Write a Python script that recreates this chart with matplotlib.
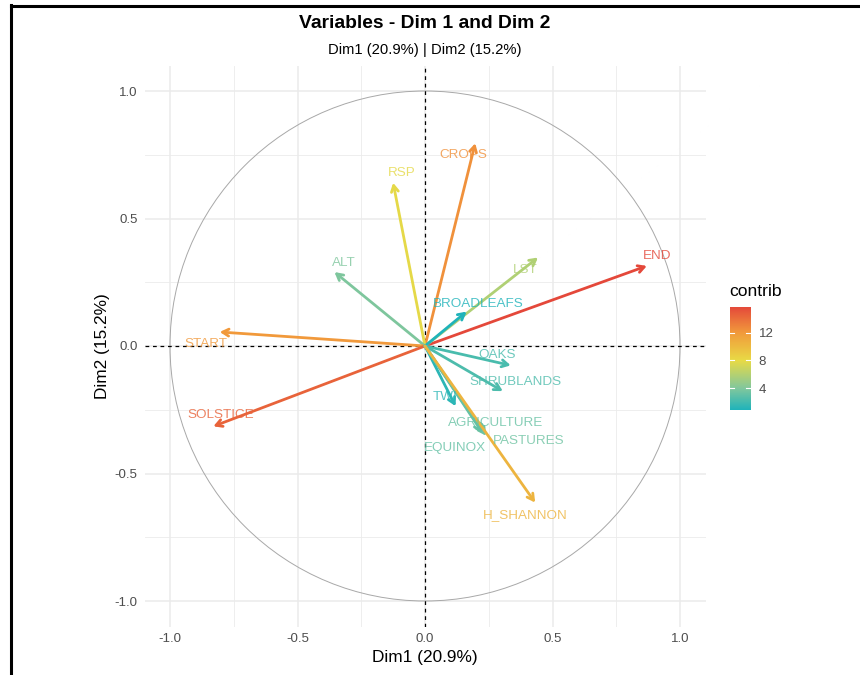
import numpy as np
import matplotlib
matplotlib.use("Agg")
import matplotlib.pyplot as plt
from matplotlib.colors import LinearSegmentedColormap, Normalize
from matplotlib.lines import Line2D
from matplotlib.patches import Circle

plt.rcParams["font.family"] = ["Liberation Sans", "DejaVu Sans"]

# Variable coordinates on the first two principal dimensions
variables = ["END", "CROPS", "RSP", "ALT", "START", "SOLSTICE", "LST",
             "BROADLEAFS", "OAKS", "SHRUBLANDS", "TWI", "AGRICULTURE",
             "PASTURES", "EQUINOX", "H_SHANNON"]
dim1 = [0.870, 0.197, -0.125, -0.355, -0.805, -0.830, 0.443,
        0.163, 0.336, 0.305, 0.120, 0.232, 0.240, 0.225, 0.432]
dim2 = [0.314, 0.795, 0.640, 0.290, 0.055, -0.315, 0.347,
        0.135, -0.076, -0.177, -0.236, -0.345, -0.352, -0.340, -0.614]
# Contribution (%) of each variable to Dim1 + Dim2
contrib = [15.80, 12.39, 7.85, 3.88, 12.02, 14.55, 5.85,
           0.83, 2.19, 2.30, 1.29, 3.19, 3.35, 3.07, 10.41]
# Repelled label positions
label_x = [0.910, 0.149, -0.090, -0.318, -0.859, -0.800, 0.392,
           0.208, 0.282, 0.353, 0.078, 0.278, 0.408, 0.118, 0.392]
label_y = [0.353, 0.749, 0.678, 0.325, 0.008, -0.270, 0.298,
           0.165, -0.035, -0.141, -0.200, -0.302, -0.373, -0.400, -0.663]

eig_pct = [20.9, 15.2]
cbar_ticks = [4, 8, 12]
# Gradient stops for the contribution colour scale (value, colour)
grad_values = [0.83, 4.0, 8.0, 12.0, 15.80]
grad_colors = ["#1FB3BA", "#82C79C", "#E8DA45", "#F19A3B", "#E4483A"]

vmin, vmax = min(contrib), max(contrib)
stops = [((v - vmin) / (vmax - vmin), c) for v, c in zip(grad_values, grad_colors)]
cmap = LinearSegmentedColormap.from_list("contrib", stops)
norm = Normalize(vmin=vmin, vmax=vmax)

W, H = 860, 675
fig = plt.figure(figsize=(W / 100, H / 100), dpi=100)
ax = fig.add_axes([144.5 / W, 1 - 626.5 / H, 561 / W, 561 / H])

ax.set_xlim(-1.1, 1.1)
ax.set_ylim(-1.1, 1.1)
ax.set_aspect("equal")
for s in ax.spines.values():
    s.set_visible(False)

major = [-1.0, -0.5, 0.0, 0.5, 1.0]
minor = [-0.75, -0.25, 0.25, 0.75]
for v in minor:
    ax.axvline(v, color="#EBEBEB", lw=0.6, zorder=0)
    ax.axhline(v, color="#EBEBEB", lw=0.6, zorder=0)
for v in major:
    ax.axvline(v, color="#EBEBEB", lw=1.1, zorder=0)
    ax.axhline(v, color="#EBEBEB", lw=1.1, zorder=0)

ax.set_xticks(major)
ax.set_yticks(major)
ax.set_xticklabels(["-1.0", "-0.5", "0.0", "0.5", "1.0"])
ax.set_yticklabels(["-1.0", "-0.5", "0.0", "0.5", "1.0"])
ax.tick_params(length=0, labelsize=9.5, labelcolor="#4D4D4D", pad=5)

ax.add_patch(Circle((0, 0), 1.0, fill=False, ec="#A8A8A8", lw=0.7, zorder=1))
ax.axhline(0, color="black", lw=0.9, ls=(0, (3, 3)), zorder=2)
ax.axvline(0, color="black", lw=0.9, ls=(0, (3, 3)), zorder=2)

for name, x, y, c, lx, ly in zip(variables, dim1, dim2, contrib, label_x, label_y):
    col = cmap(norm(c))
    ax.annotate("", xy=(x, y), xytext=(0, 0),
                arrowprops=dict(arrowstyle="->,head_length=0.45,head_width=0.25",
                                color=col, lw=2.0, shrinkA=0, shrinkB=0),
                zorder=3)
    ax.text(lx, ly, name, color=col, fontsize=9.7, ha="center", va="center",
            alpha=0.8, zorder=4)

ax.set_xlabel(f"Dim1 ({eig_pct[0]}%)", fontsize=12.4, labelpad=3)
ax.set_ylabel(f"Dim2 ({eig_pct[1]}%)", fontsize=12.4, labelpad=3)

fig.text(425 / W, 1 - 24 / H, "Variables - Dim 1 and Dim 2", ha="center",
         va="center", fontsize=13.9, fontweight="bold")
fig.text(425 / W, 1 - 50 / H, f"Dim1 ({eig_pct[0]}%) | Dim2 ({eig_pct[1]}%)",
         ha="center", va="center", fontsize=10.6)

# Colour bar legend
cax = fig.add_axes([729.5 / W, 1 - 410 / H, 21 / W, 103.5 / H])
sm = plt.cm.ScalarMappable(cmap=cmap, norm=norm)
cb = fig.colorbar(sm, cax=cax, ticks=cbar_ticks)
cb.outline.set_visible(False)
cax.tick_params(length=0, labelsize=9.5, labelcolor="#4D4D4D", pad=6)
for t in cbar_ticks:
    cax.plot([0, 0.2], [t, t], color="white", lw=0.8, transform=cax.get_yaxis_transform())
    cax.plot([0.8, 1.0], [t, t], color="white", lw=0.8, transform=cax.get_yaxis_transform())
fig.text(729 / W, 1 - 291 / H, "contrib", ha="left", va="center", fontsize=12.6)

# Outer frame lines
fig.add_artist(Line2D([10.5 / W, 1.0], [1 - 6 / H, 1 - 6 / H], color="black", lw=2.2))
fig.add_artist(Line2D([11 / W, 11 / W], [0, 1 - 5 / H], color="black", lw=2.2))

fig.savefig("out.png", dpi=100)
